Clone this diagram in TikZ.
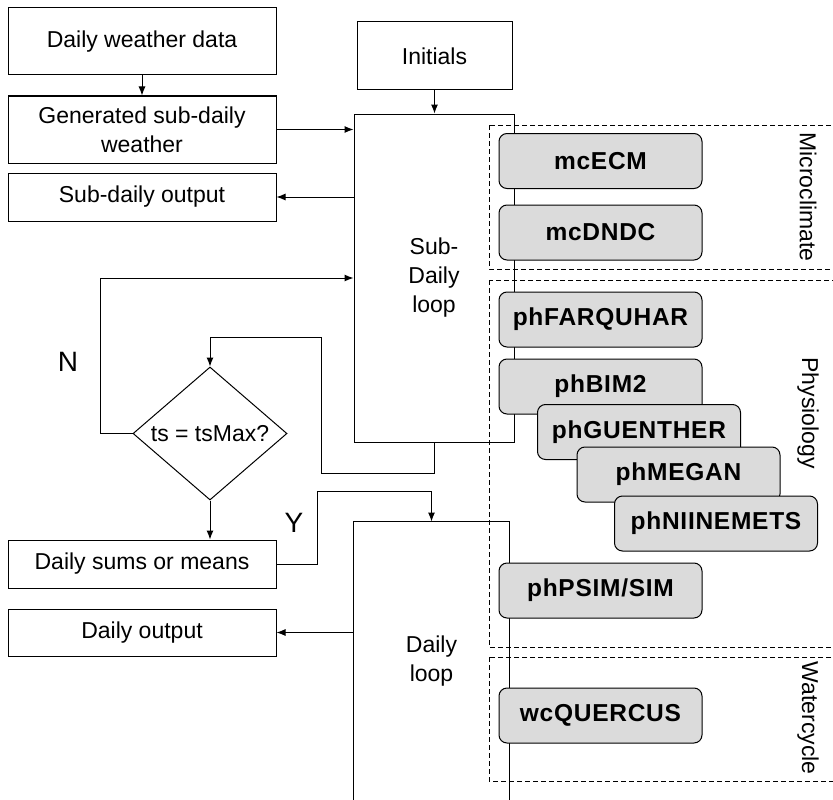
\documentclass[tikz,border=0pt]{standalone}
\usepackage{fontspec}
\setmainfont{Liberation Sans}
\usetikzlibrary{positioning,shapes.geometric,arrows.meta}

\begin{document}
\begin{tikzpicture}[x=1pt, y=-1pt, line width=1pt]

        % Setup the styles for the boxes
        \tikzset{box style/.style={draw,
                                   inner sep=0pt,
                                   align=center,
                                   font=\fontsize{23}{29}\selectfont},
                 plain box/.style={box style, minimum width=268pt},
                 module style/.style={box style,
                                      rounded corners=8pt,
                                      fill=black!14,
                                      minimum width=203pt,
                                      minimum height=55pt,
                                      font=\fontsize{24.5}{28}\selectfont\bfseries\addfontfeature{LetterSpace=3}},
                 group style/.style={draw, dash pattern=on 5pt off 3pt},
                 group label/.style={rotate=-90, font=\fontsize{23}{28}\selectfont},
                 arrow style/.style={-{Latex[length=9pt,width=7pt]}}}

        \useasboundingbox (0,0) rectangle (833,800);

        % Draw the left column
        \node[plain box, minimum height=67pt] at (142, 41.5)  (weather)  {Daily weather data};
        \node[plain box, minimum height=67pt] at (142, 129.5) (subwx)    {Generated sub-daily\\weather};
        \node[plain box, minimum height=48pt] at (142, 197)   (subout)   {Sub-daily output};
        \node[box style, diamond, shape aspect=1.16,
              minimum width=154pt, minimum height=133pt] at (210, 433.5) (check) {ts = tsMax?};
        \node[plain box, minimum height=48pt] at (142, 564)   (sums)     {Daily sums or means};
        \node[plain box, minimum height=47pt] at (142, 632.5) (dayout)   {Daily output};

        % Draw the loops
        \node[box style, minimum width=155pt, minimum height=68pt] at (434.5, 56) (init) {Initials};
        \node[box style, minimum width=160pt, minimum height=328pt] at (434, 278) (subloop) {Sub-\\Daily\\loop};
        \node[box style, draw=none, minimum width=155pt, minimum height=278pt] at (431.5, 661) (dayloop) {Daily\\loop};
        \draw (dayloop.south west) |- (dayloop.north east) -- (dayloop.south east);

        % Draw the groups
        \draw[group style] (489, 125) rectangle (840, 269);
        \draw[group style] (489, 280) rectangle (840, 647);
        \draw[group style] (489, 657) rectangle (840, 781);
        \node[group label] at (808, 197) (micro) {Microclimate};
        \node[group label] at (808, 413) (physio) {Physiology};
        \node[group label] at (808, 718) (water) {Watercycle};

        % Draw the modules
        \node[module style] at (600.5, 161)   (ecm)     {mcECM};
        \node[module style] at (600.5, 232.5) (dndc)    {mcDNDC};
        \node[module style] at (600.5, 319.5) (farq)    {phFARQUHAR};
        \node[module style] at (600.5, 386.5) (bim)     {phBIM2};
        \node[module style] at (639, 432)     (guen)    {phGUENTHER};
        \node[module style] at (678.5, 474.5) (megan)   {phMEGAN};
        \node[module style] at (716, 523.5)   (niin)    {phNIINEMETS};
        \node[module style] at (600.5, 590.5) (psim)    {phPSIM/SIM};
        \node[module style] at (600.5, 715.5) (quercus) {wcQUERCUS};

        % Yes / no labels
        \node[font=\fontsize{28}{30}\selectfont] at (68, 362)  (no)  {N};
        \node[font=\fontsize{28}{30}\selectfont] at (294, 523) (yes) {Y};

        % Connect the boxes with arrows
        \coordinate (back) at (321, 337);
        \coordinate (up)   at (317, 491);
        \draw[arrow style] (weather) -- (subwx);
        \draw[arrow style] (subwx.east) -- (subwx.east -| subloop.west);
        \draw[arrow style] (subout.east -| subloop.west) -- (subout.east);
        \draw[arrow style] (init) -- (init.south |- subloop.north);
        \draw[arrow style] (check.west) -- ++(-32, 0) |- (subloop.west);
        \draw[arrow style] (subloop.south) -- ++(0, 31) -| (back) -| (check.north);
        \draw[arrow style] (check.south) -- (sums.north -| check.south);
        \draw[arrow style] (sums.east) -| (up) -| (dayloop.north);
        \draw[arrow style] (dayout.east -| dayloop.west) -- (dayout.east);
\end{tikzpicture}
\end{document}
